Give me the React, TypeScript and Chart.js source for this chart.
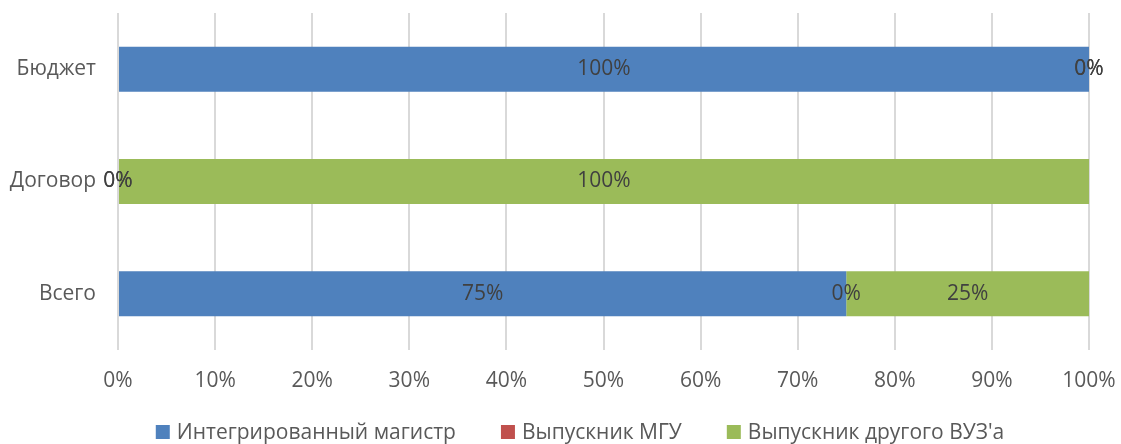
import React, { useEffect, useRef } from "react";
import { Chart, registerables } from "chart.js";

Chart.register(...registerables);

const categories = ["Бюджет", "Договор", "Всего"];
const seriesNames = ["Интегрированный магистр", "Выпускник МГУ", "Выпускник другого ВУЗ'а"];
const integrated = [100, 0, 75];
const msuGraduates = [0, 0, 0];
const otherUniversity = [0, 100, 25];
const seriesColors = ["#4F81BD", "#C0504D", "#9BBB59"];
const xTicks = [0, 10, 20, 30, 40, 50, 60, 70, 80, 90, 100];

const FONT = "'Open Sans', 'Noto Sans', sans-serif";

const labelPlugin = {
  id: "barLabels",
  afterDatasetsDraw(chart: any) {
    const ctx = chart.ctx;
    ctx.save();
    ctx.font = `21px ${FONT}`;
    ctx.fillStyle = "#404040";
    ctx.textAlign = "center";
    ctx.textBaseline = "middle";
    chart.data.datasets.forEach((ds: any, di: number) => {
      const meta = chart.getDatasetMeta(di);
      meta.data.forEach((bar: any, i: number) => {
        const v = ds.data[i];
        const cx = (bar.x + bar.base) / 2;
        ctx.fillText(`${v}%`, cx, bar.y);
      });
    });
    ctx.restore();
  },
};

const legendPlugin = {
  id: "bottomLegend",
  afterDraw(chart: any) {
    const ctx = chart.ctx;
    ctx.save();
    ctx.font = `21px ${FONT}`;
    ctx.textBaseline = "middle";
    ctx.textAlign = "left";
    const box = 14;
    const gap = 7;
    const spacing = 45;
    const items = chart.data.datasets.map((ds: any) => ({
      text: ds.label,
      color: ds.backgroundColor,
      w: box + gap + ctx.measureText(ds.label).width,
    }));
    const total = items.reduce((s: number, it: any) => s + it.w, 0) + spacing * (items.length - 1);
    let x = 580 - total / 2;
    const y = 432;
    items.forEach((it: any) => {
      ctx.fillStyle = it.color;
      ctx.fillRect(x, y - box / 2, box, box);
      ctx.fillStyle = "#595959";
      ctx.fillText(it.text, x + box + gap, y + 1);
      x += it.w + spacing;
    });
    ctx.restore();
  },
};

export default function App() {
  const ref = useRef<HTMLCanvasElement>(null);
  useEffect(() => {
    document.body.style.margin = "0";
    const chart = new Chart(ref.current!, {
      type: "bar",
      data: {
        labels: categories,
        datasets: [
          { label: seriesNames[0], data: integrated, backgroundColor: seriesColors[0] },
          { label: seriesNames[1], data: msuGraduates, backgroundColor: seriesColors[1] },
          { label: seriesNames[2], data: otherUniversity, backgroundColor: seriesColors[2] },
        ],
      },
      options: {
        indexAxis: "y",
        animation: false,
        responsive: false,
        maintainAspectRatio: false,
        datasets: { bar: { categoryPercentage: 1, barPercentage: 0.4 } },
        layout: { padding: { top: 13, right: 32, left: 8, bottom: 49 } },
        scales: {
          x: {
            stacked: true,
            min: 0,
            max: 100,
            afterBuildTicks: (axis: any) => {
              axis.ticks = xTicks.map((v) => ({ value: v }));
            },
            afterFit: (axis: any) => {
              axis.height = 45;
              axis.paddingLeft = 0;
              axis.paddingRight = 0;
            },
            ticks: {
              callback: (v: any) => `${v}%`,
              color: "#595959",
              font: { family: FONT, size: 21 },
              padding: 18,
              maxRotation: 0,
            },
            grid: { color: "#D9D9D9", lineWidth: 2, drawTicks: false },
            border: { display: false },
          },
          y: {
            stacked: true,
            afterFit: (axis: any) => {
              axis.width = 110;
              axis.paddingTop = 0;
              axis.paddingBottom = 0;
            },
            ticks: {
              color: "#595959",
              font: { family: FONT, size: 21 },
              padding: 22,
            },
            grid: { display: false, drawTicks: false },
            border: { display: false },
          },
        },
        plugins: {
          legend: { display: false },
          tooltip: { enabled: false },
        },
      },
      plugins: [labelPlugin, legendPlugin],
    });
    return () => chart.destroy();
  }, []);
  return (
    <div style={{ width: 1121, height: 444 }}>
      <canvas ref={ref} width={1121} height={444} style={{ display: "block" }} />
    </div>
  );
}
